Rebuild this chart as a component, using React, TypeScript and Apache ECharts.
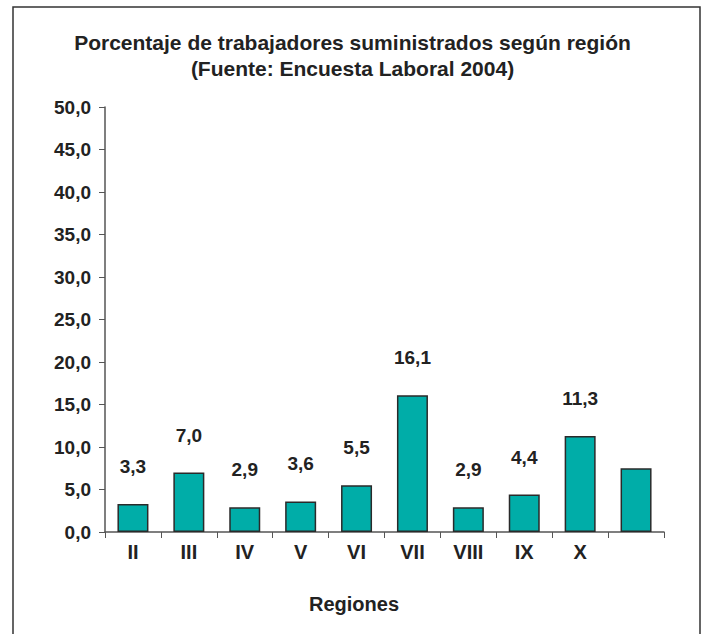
import React, { useEffect, useRef } from "react";
import * as echarts from "echarts";

const titleLines = [
  "Porcentaje de trabajadores suministrados según región",
  "(Fuente: Encuesta Laboral 2004)",
];
const categories = ["II", "III", "IV", "V", "VI", "VII", "VIII", "IX", "X", ""];
const values = [3.3, 7.0, 2.9, 3.6, 5.5, 16.1, 2.9, 4.4, 11.3, 7.5];
const showLabel = [true, true, true, true, true, true, true, true, true, false];
const yMin = 0;
const yMax = 50;
const yInterval = 5;
const xAxisName = "Regiones";

const fmt = (v: number) => v.toFixed(1).replace(".", ",");

export default function App() {
  const ref = useRef<HTMLDivElement>(null);
  useEffect(() => {
    document.body.style.margin = "0";
    const chart = echarts.init(ref.current!, undefined, { renderer: "svg" });
    const font = "'Liberation Sans', Arial, sans-serif";
    chart.setOption({
      animation: false,
      backgroundColor: "#ffffff",
      textStyle: { fontFamily: font },
      title: {
        text: titleLines.join("\n"),
        left: "center",
        top: 24,
        textStyle: {
          fontFamily: font,
          fontSize: 21,
          fontWeight: "bold",
          color: "#222",
          lineHeight: 26,
        },
      },
      graphic: [
        {
          type: "rect",
          shape: { x: 13, y: 7, width: 687, height: 700 },
          style: { fill: "none", stroke: "#333", lineWidth: 1.5 },
          silent: true,
          z: -1,
        },
        {
          type: "text",
          x: 354,
          y: 604,
          style: {
            text: xAxisName,
            fontFamily: font,
            fontSize: 20,
            fontWeight: "bold",
            fill: "#222",
            align: "center",
            verticalAlign: "middle",
          },
        },
      ],
      grid: { left: 105, right: 41, top: 107, bottom: 102 },
      xAxis: {
        type: "category",
        data: categories,
        boundaryGap: true,
        axisLine: { lineStyle: { color: "#555", width: 1.5 } },
        axisTick: { show: true, alignWithLabel: false, length: 6, lineStyle: { color: "#555" } },
        axisLabel: { fontFamily: font, fontSize: 20, fontWeight: "bold", color: "#222", margin: 10, interval: 0 },
      },
      yAxis: {
        type: "value",
        min: yMin,
        max: yMax,
        interval: yInterval,
        splitLine: { show: false },
        axisLine: { show: true, lineStyle: { color: "#555", width: 1.5 } },
        axisTick: { show: true, length: 6, lineStyle: { color: "#555" } },
        axisLabel: {
          fontFamily: font,
          fontSize: 19,
          fontWeight: "bold",
          color: "#222",
          margin: 14,
          formatter: (v: number) => fmt(v),
        },
      },
      series: [
        {
          type: "bar",
          barWidth: 31,
          data: values.map((v, i) => ({
            value: v,
            label: { show: showLabel[i] },
          })),
          itemStyle: { color: "#00ADA8", borderColor: "#2a2a2a", borderWidth: 1.5 },
          label: {
            show: true,
            position: "top",
            distance: 28,
            fontFamily: font,
            fontSize: 19,
            fontWeight: "bold",
            color: "#222",
            formatter: (p: any) => fmt(p.value),
          },
        },
      ],
    });
    return () => chart.dispose();
  }, []);
  return <div ref={ref} style={{ width: 705, height: 634 }} />;
}
